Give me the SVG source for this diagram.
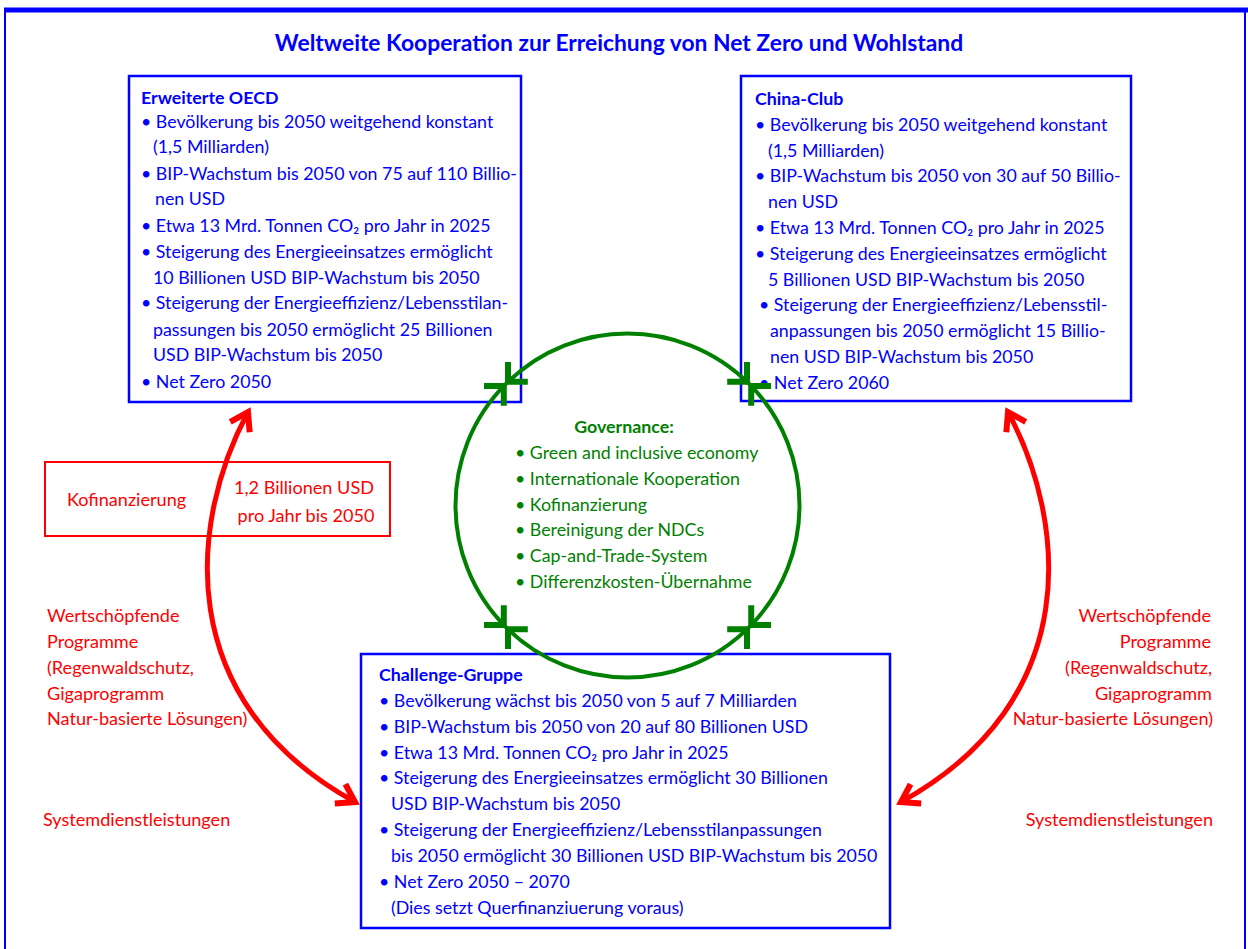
<svg xmlns="http://www.w3.org/2000/svg" xmlns:xlink="http://www.w3.org/1999/xlink" width="1248" height="949" viewBox="0 0 1248 949">
<style>
.t{font-family:Lato,"Liberation Sans",sans-serif;font-size:17.8px;}
.b{fill:#0000FF;}
.r{fill:#FF0000;font-size:18.1px;}
.g{fill:#008000;}
.bold{font-weight:bold;}
.title{font-size:22.85px;}
.box{fill:#FFFFFF;stroke:#0000FF;stroke-width:2.5;}
.rbox{fill:none;stroke:#FF0000;stroke-width:2;}
.red{fill:none;stroke:#FF0000;stroke-width:5;}
.grn{fill:none;stroke:#008000;stroke-width:4;}
</style>
<defs>
<marker id="rh" markerUnits="userSpaceOnUse" markerWidth="50" markerHeight="50" viewBox="-25 -25 50 50" refX="0" refY="0" orient="auto-start-reverse" overflow="visible">
<path d="M-17,-11 L0,0 L-17,11" fill="none" stroke="#FF0000" stroke-width="6" stroke-miterlimit="10"/>
</marker>
<path id="gh" d="M-14,-14 L0,0 L-14,14" fill="none" stroke="#008000" stroke-width="6" stroke-miterlimit="10"/>
</defs>
<rect width="1248" height="949" fill="#FFFFFF"/>
<g id="frame">
<line x1="4" y1="10" x2="1248" y2="10" stroke="#0000FF" stroke-width="5"/>
<line x1="5" y1="8" x2="5" y2="949" stroke="#0000FF" stroke-width="2"/>
<line x1="1245" y1="8" x2="1245" y2="949" stroke="#0000FF" stroke-width="2"/>
</g>
<text class="t b bold title" x="619" y="51" text-anchor="middle">Weltweite Kooperation zur Erreichung von Net Zero und Wohlstand</text>

<g id="oecd">
<rect class="box" x="129" y="76" width="392" height="326"/>
<text class="t b bold" x="141" y="104">Erweiterte OECD</text>
<text class="t b" x="141" y="128">• Bevölkerung bis 2050 weitgehend konstant</text>
<text class="t b" x="153" y="153">(1,5 Milliarden)</text>
<text class="t b" x="141" y="180">• BIP-Wachstum bis 2050 von 75 auf 110 Billio-</text>
<text class="t b" x="155" y="205">nen USD</text>
<text class="t b" x="141" y="232">• Etwa 13 Mrd. Tonnen CO₂ pro Jahr in 2025</text>
<text class="t b" x="141" y="258">• Steigerung des Energieeinsatzes ermöglicht</text>
<text class="t b" x="153" y="284">10 Billionen USD BIP-Wachstum bis 2050</text>
<text class="t b" x="141" y="309">• Steigerung der Energieeffizienz/Lebensstilan-</text>
<text class="t b" x="153" y="336">passungen bis 2050 ermöglicht 25 Billionen</text>
<text class="t b" x="153" y="361">USD BIP-Wachstum bis 2050</text>
<text class="t b" x="141" y="388">• Net Zero 2050</text>
</g>

<g id="china">
<rect class="box" x="741" y="76" width="390" height="325"/>
<text class="t b bold" x="755" y="105">China-Club</text>
<text class="t b" x="755" y="131">• Bevölkerung bis 2050 weitgehend konstant</text>
<text class="t b" x="768" y="157">(1,5 Milliarden)</text>
<text class="t b" x="755" y="182">• BIP-Wachstum bis 2050 von 30 auf 50 Billio-</text>
<text class="t b" x="768" y="208">nen USD</text>
<text class="t b" x="755" y="234">• Etwa 13 Mrd. Tonnen CO₂ pro Jahr in 2025</text>
<text class="t b" x="755" y="260">• Steigerung des Energieeinsatzes ermöglicht</text>
<text class="t b" x="768" y="286">5 Billionen USD BIP-Wachstum bis 2050</text>
<text class="t b" x="759" y="311">• Steigerung der Energieeffizienz/Lebensstil-</text>
<text class="t b" x="770" y="337">anpassungen bis 2050 ermöglicht 15 Billio-</text>
<text class="t b" x="770" y="363">nen USD BIP-Wachstum bis 2050</text>
<text class="t b" x="759" y="389">• Net Zero 2060</text>
</g>

<g id="challenge">
<rect class="box" x="361" y="654" width="529" height="274"/>
<text class="t b bold" x="379" y="681">Challenge-Gruppe</text>
<text class="t b" x="379" y="707">• Bevölkerung wächst bis 2050 von 5 auf 7 Milliarden</text>
<text class="t b" x="379" y="733">• BIP-Wachstum bis 2050 von 20 auf 80 Billionen USD</text>
<text class="t b" x="379" y="759">• Etwa 13 Mrd. Tonnen CO₂ pro Jahr in 2025</text>
<text class="t b" x="379" y="784">• Steigerung des Energieeinsatzes ermöglicht 30 Billionen</text>
<text class="t b" x="391" y="810">USD BIP-Wachstum bis 2050</text>
<text class="t b" x="379" y="836">• Steigerung der Energieeffizienz/Lebensstilanpassungen</text>
<text class="t b" x="391" y="862">bis 2050 ermöglicht 30 Billionen USD BIP-Wachstum bis 2050</text>
<text class="t b" x="379" y="888">• Net Zero 2050 – 2070</text>
<text class="t b" x="391" y="914">(Dies setzt Querfinanziuerung voraus)</text>
</g>

<g id="kofinanzierung">
<rect class="rbox" x="45" y="462" width="345" height="74"/>
<text class="t r" x="67" y="506">Kofinanzierung</text>
<text class="t r" x="304" y="494" text-anchor="middle">1,2 Billionen USD</text>
<text class="t r" x="306" y="522" text-anchor="middle">pro Jahr bis 2050</text>
</g>

<g id="left-labels">
<text class="t r" x="47" y="622">Wertschöpfende</text>
<text class="t r" x="47" y="648">Programme</text>
<text class="t r" x="47" y="674">(Regenwaldschutz,</text>
<text class="t r" x="47" y="700">Gigaprogramm</text>
<text class="t r" x="47" y="725">Natur-basierte Lösungen)</text>
<text class="t r" x="43" y="826">Systemdienstleistungen</text>
</g>

<g id="right-labels">
<text class="t r" x="1211" y="622" text-anchor="end">Wertschöpfende</text>
<text class="t r" x="1211" y="648" text-anchor="end">Programme</text>
<text class="t r" x="1212" y="674" text-anchor="end">(Regenwaldschutz,</text>
<text class="t r" x="1212" y="700" text-anchor="end">Gigaprogramm</text>
<text class="t r" x="1213" y="725" text-anchor="end">Natur-basierte Lösungen)</text>
<text class="t r" x="1213" y="826" text-anchor="end">Systemdienstleistungen</text>
</g>

<g id="governance">
<text class="t g bold" x="624" y="433" text-anchor="middle">Governance:</text>
<text class="t g" x="515" y="459">• Green and inclusive economy</text>
<text class="t g" x="515" y="485">• Internationale Kooperation</text>
<text class="t g" x="515" y="511">• Kofinanzierung</text>
<text class="t g" x="515" y="536">• Bereinigung der NDCs</text>
<text class="t g" x="515" y="562">• Cap-and-Trade-System</text>
<text class="t g" x="515" y="588">• Differenzkosten-Übernahme</text>
</g>

<g id="connectors">
<circle class="grn" cx="627.5" cy="505.5" r="172"/>
<use xlink:href="#gh" transform="translate(508,381.8) rotate(135)"/>
<use xlink:href="#gh" transform="translate(503.8,386) rotate(-45)"/>
<use xlink:href="#gh" transform="translate(747,381.8) rotate(45)"/>
<use xlink:href="#gh" transform="translate(751.2,386) rotate(225)"/>
<use xlink:href="#gh" transform="translate(503.8,625) rotate(45)"/>
<use xlink:href="#gh" transform="translate(508,629.2) rotate(225)"/>
<use xlink:href="#gh" transform="translate(751.2,625) rotate(135)"/>
<use xlink:href="#gh" transform="translate(747,629.2) rotate(-45)"/>
<path class="red" d="M248,412 C190,520 170,700 355,802" marker-start="url(#rh)" marker-end="url(#rh)"/>
<path class="red" d="M1008,412 C1066,520 1086,700 901,802" marker-start="url(#rh)" marker-end="url(#rh)"/>
</g>
</svg>
